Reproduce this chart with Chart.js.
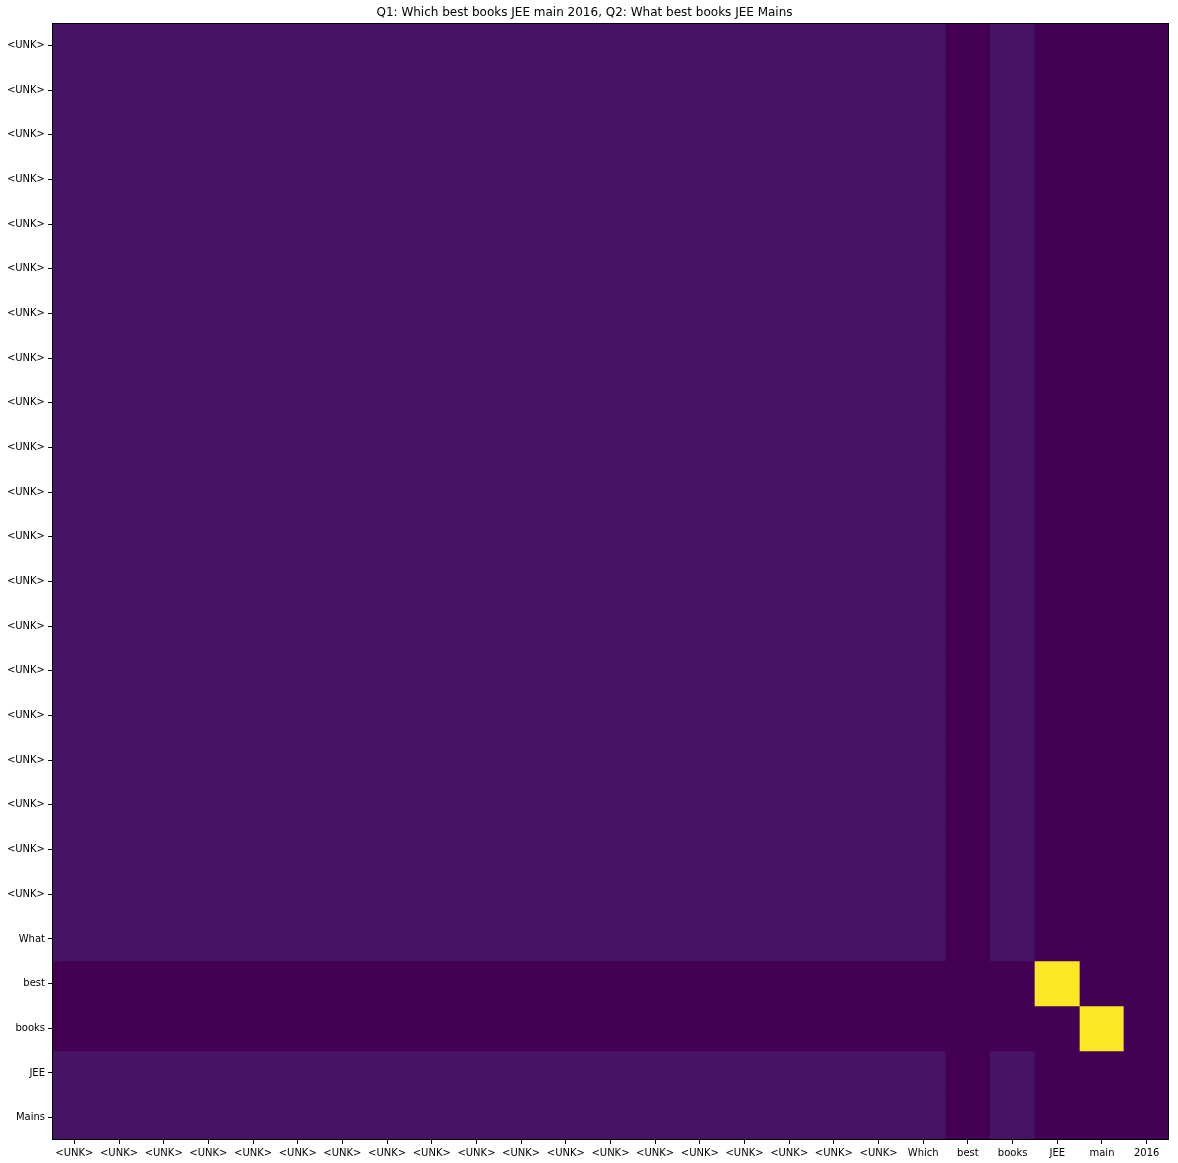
<!DOCTYPE html>
<html>
<head>
<meta charset="utf-8">
<script src="https://cdn.jsdelivr.net/npm/chart.js@4"></script>
<style>
html,body{margin:0;padding:0;background:#fff;}
#wrap{width:1178px;height:1163px;}
</style>
</head>
<body>
<div id="wrap"><canvas id="c" width="1178" height="1163"></canvas></div>
<script>
const titleText = "Q1: Which best books JEE main 2016, Q2: What best books JEE Mains";
const xLabels = ["<UNK>","<UNK>","<UNK>","<UNK>","<UNK>","<UNK>","<UNK>","<UNK>","<UNK>","<UNK>","<UNK>","<UNK>","<UNK>","<UNK>","<UNK>","<UNK>","<UNK>","<UNK>","<UNK>","Which","best","books","JEE","main","2016"];
const yLabels = ["<UNK>","<UNK>","<UNK>","<UNK>","<UNK>","<UNK>","<UNK>","<UNK>","<UNK>","<UNK>","<UNK>","<UNK>","<UNK>","<UNK>","<UNK>","<UNK>","<UNK>","<UNK>","<UNK>","<UNK>","What","best","books","JEE","Mains"];
const values = [
[0.05,0.05,0.05,0.05,0.05,0.05,0.05,0.05,0.05,0.05,0.05,0.05,0.05,0.05,0.05,0.05,0.05,0.05,0.05,0.05,0,0.05,0,0,0],
[0.05,0.05,0.05,0.05,0.05,0.05,0.05,0.05,0.05,0.05,0.05,0.05,0.05,0.05,0.05,0.05,0.05,0.05,0.05,0.05,0,0.05,0,0,0],
[0.05,0.05,0.05,0.05,0.05,0.05,0.05,0.05,0.05,0.05,0.05,0.05,0.05,0.05,0.05,0.05,0.05,0.05,0.05,0.05,0,0.05,0,0,0],
[0.05,0.05,0.05,0.05,0.05,0.05,0.05,0.05,0.05,0.05,0.05,0.05,0.05,0.05,0.05,0.05,0.05,0.05,0.05,0.05,0,0.05,0,0,0],
[0.05,0.05,0.05,0.05,0.05,0.05,0.05,0.05,0.05,0.05,0.05,0.05,0.05,0.05,0.05,0.05,0.05,0.05,0.05,0.05,0,0.05,0,0,0],
[0.05,0.05,0.05,0.05,0.05,0.05,0.05,0.05,0.05,0.05,0.05,0.05,0.05,0.05,0.05,0.05,0.05,0.05,0.05,0.05,0,0.05,0,0,0],
[0.05,0.05,0.05,0.05,0.05,0.05,0.05,0.05,0.05,0.05,0.05,0.05,0.05,0.05,0.05,0.05,0.05,0.05,0.05,0.05,0,0.05,0,0,0],
[0.05,0.05,0.05,0.05,0.05,0.05,0.05,0.05,0.05,0.05,0.05,0.05,0.05,0.05,0.05,0.05,0.05,0.05,0.05,0.05,0,0.05,0,0,0],
[0.05,0.05,0.05,0.05,0.05,0.05,0.05,0.05,0.05,0.05,0.05,0.05,0.05,0.05,0.05,0.05,0.05,0.05,0.05,0.05,0,0.05,0,0,0],
[0.05,0.05,0.05,0.05,0.05,0.05,0.05,0.05,0.05,0.05,0.05,0.05,0.05,0.05,0.05,0.05,0.05,0.05,0.05,0.05,0,0.05,0,0,0],
[0.05,0.05,0.05,0.05,0.05,0.05,0.05,0.05,0.05,0.05,0.05,0.05,0.05,0.05,0.05,0.05,0.05,0.05,0.05,0.05,0,0.05,0,0,0],
[0.05,0.05,0.05,0.05,0.05,0.05,0.05,0.05,0.05,0.05,0.05,0.05,0.05,0.05,0.05,0.05,0.05,0.05,0.05,0.05,0,0.05,0,0,0],
[0.05,0.05,0.05,0.05,0.05,0.05,0.05,0.05,0.05,0.05,0.05,0.05,0.05,0.05,0.05,0.05,0.05,0.05,0.05,0.05,0,0.05,0,0,0],
[0.05,0.05,0.05,0.05,0.05,0.05,0.05,0.05,0.05,0.05,0.05,0.05,0.05,0.05,0.05,0.05,0.05,0.05,0.05,0.05,0,0.05,0,0,0],
[0.05,0.05,0.05,0.05,0.05,0.05,0.05,0.05,0.05,0.05,0.05,0.05,0.05,0.05,0.05,0.05,0.05,0.05,0.05,0.05,0,0.05,0,0,0],
[0.05,0.05,0.05,0.05,0.05,0.05,0.05,0.05,0.05,0.05,0.05,0.05,0.05,0.05,0.05,0.05,0.05,0.05,0.05,0.05,0,0.05,0,0,0],
[0.05,0.05,0.05,0.05,0.05,0.05,0.05,0.05,0.05,0.05,0.05,0.05,0.05,0.05,0.05,0.05,0.05,0.05,0.05,0.05,0,0.05,0,0,0],
[0.05,0.05,0.05,0.05,0.05,0.05,0.05,0.05,0.05,0.05,0.05,0.05,0.05,0.05,0.05,0.05,0.05,0.05,0.05,0.05,0,0.05,0,0,0],
[0.05,0.05,0.05,0.05,0.05,0.05,0.05,0.05,0.05,0.05,0.05,0.05,0.05,0.05,0.05,0.05,0.05,0.05,0.05,0.05,0,0.05,0,0,0],
[0.05,0.05,0.05,0.05,0.05,0.05,0.05,0.05,0.05,0.05,0.05,0.05,0.05,0.05,0.05,0.05,0.05,0.05,0.05,0.05,0,0.05,0,0,0],
[0.05,0.05,0.05,0.05,0.05,0.05,0.05,0.05,0.05,0.05,0.05,0.05,0.05,0.05,0.05,0.05,0.05,0.05,0.05,0.05,0,0.05,0,0,0],
[0,0,0,0,0,0,0,0,0,0,0,0,0,0,0,0,0,0,0,0,0,0,1,0,0],
[0,0,0,0,0,0,0,0,0,0,0,0,0,0,0,0,0,0,0,0,0,0,0,1,0],
[0.05,0.05,0.05,0.05,0.05,0.05,0.05,0.05,0.05,0.05,0.05,0.05,0.05,0.05,0.05,0.05,0.05,0.05,0.05,0.05,0,0.05,0,0,0],
[0.05,0.05,0.05,0.05,0.05,0.05,0.05,0.05,0.05,0.05,0.05,0.05,0.05,0.05,0.05,0.05,0.05,0.05,0.05,0.05,0,0.05,0,0,0]
];

// viridis key stops
const viridisStops = [
  [0.0,[68,1,84]],[0.1,[72,36,117]],[0.2,[65,68,135]],[0.3,[53,95,141]],
  [0.4,[42,120,142]],[0.5,[33,145,140]],[0.6,[34,168,132]],[0.7,[68,191,112]],
  [0.8,[122,209,81]],[0.9,[189,223,38]],[1.0,[253,231,37]]
];
function viridis(v){
  v = Math.max(0, Math.min(1, v));
  for (let i = 1; i < viridisStops.length; i++) {
    const [t1,c1] = viridisStops[i-1], [t2,c2] = viridisStops[i];
    if (v <= t2) {
      const f = (v - t1) / (t2 - t1);
      const c = c1.map((a,k)=>Math.round(a + (c2[k]-a)*f));
      return `rgb(${c[0]},${c[1]},${c[2]})`;
    }
  }
  return 'rgb(253,231,37)';
}

const datasets = values.map((row, r) => ({
  label: yLabels[r],
  data: row.map(() => [r - 0.5, r + 0.5]),
  backgroundColor: row.map(v => viridis(v)),
  borderWidth: 0,
  borderSkipped: false,
  grouped: false,
  categoryPercentage: 1.0,
  barPercentage: 1.0
}));

// snap cell edges to whole pixels so neighbouring cells meet without seams
const snap = {
  id: 'snap',
  afterDatasetsUpdate(chart) {
    chart.data.datasets.forEach((ds, i) => {
      chart.getDatasetMeta(i).data.forEach(el => {
        const l = Math.round(el.x - el.width / 2), r = Math.round(el.x + el.width / 2);
        el.x = (l + r) / 2; el.width = r - l;
        el.y = Math.round(el.y); el.base = Math.round(el.base);
      });
    });
  }
};

const frame = {
  id: 'frame',
  afterDatasetsDraw(chart) {
    const a = chart.chartArea, ctx = chart.ctx;
    ctx.save();
    ctx.strokeStyle = '#000';
    ctx.lineWidth = 1;
    const l = Math.round(a.left), t = Math.round(a.top), r = Math.round(a.right), b = Math.round(a.bottom);
    ctx.strokeRect(l + 0.5, t + 0.5, r - l - 1, b - t - 1);
    ctx.restore();
  }
};

Chart.defaults.font.family = "'DejaVu Sans', sans-serif";
Chart.defaults.font.size = 10;
Chart.defaults.color = '#000';

new Chart(document.getElementById('c'), {
  type: 'bar',
  data: { labels: xLabels, datasets },
  plugins: [snap, frame],
  options: {
    responsive: false,
    animation: false,
    layout: { padding: { left: 0, right: 9, top: 0, bottom: 0 } },
    plugins: {
      legend: { display: false },
      tooltip: { enabled: false },
      title: {
        display: true,
        text: titleText,
        color: '#000',
        font: { size: 12, weight: 'normal', family: "'DejaVu Sans', sans-serif" },
        padding: { top: 5.5, bottom: 3.1 }
      }
    },
    scales: {
      x: {
        type: 'category',
        offset: true,
        grid: { display: true, drawOnChartArea: false, drawTicks: true, tickLength: 4, color: '#000', tickColor: '#000', offset: false },
        border: { display: false },
        ticks: { autoSkip: false, maxRotation: 0, minRotation: 0, padding: 3, color: '#000' },
        afterFit(s) { s.height = 23; }
      },
      y: {
        type: 'linear',
        min: -0.5,
        max: 24.5,
        reverse: true,
        afterBuildTicks(s) { s.ticks = yLabels.map((_, i) => ({ value: i })); },
        grid: { display: true, drawOnChartArea: false, drawTicks: true, tickLength: 4, color: '#000', tickColor: '#000' },
        border: { display: false },
        ticks: { autoSkip: false, padding: 3, color: '#000', callback: (v) => yLabels[v] },
        afterFit(s) { s.width = 52; }
      }
    }
  }
});
</script>
</body>
</html>
